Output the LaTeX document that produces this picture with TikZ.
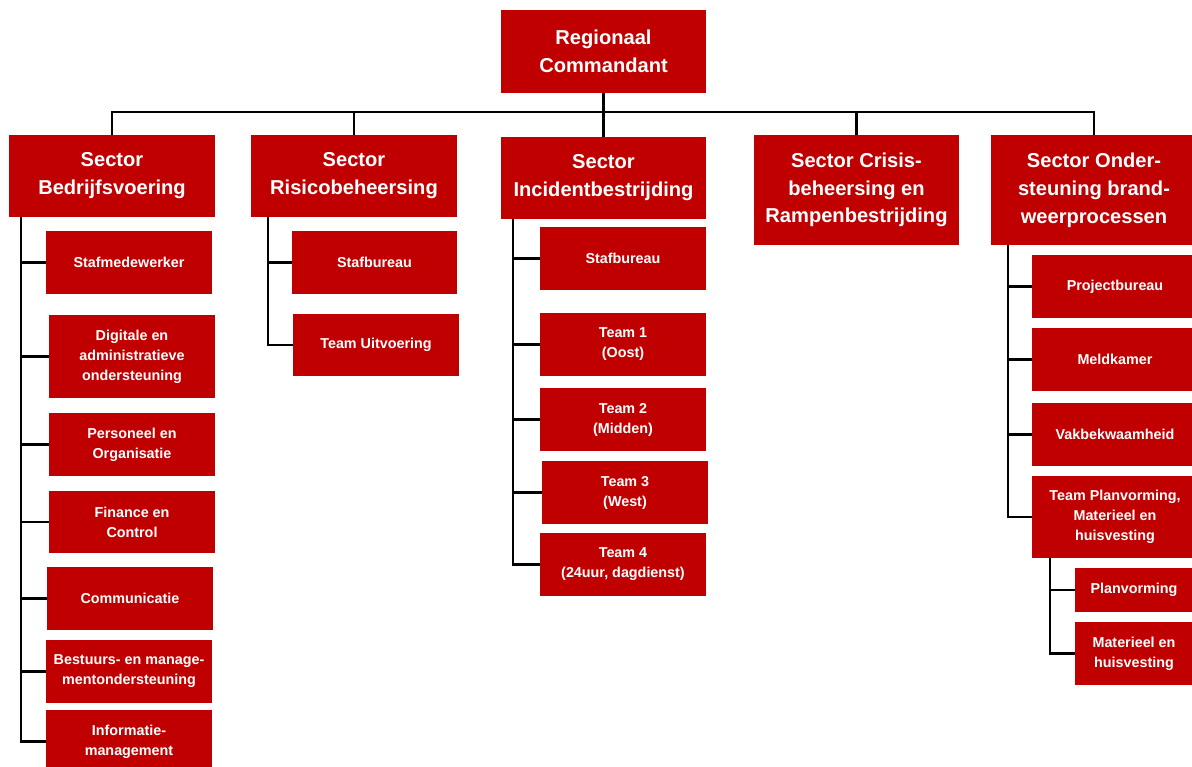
\documentclass[tikz,border=0pt]{standalone}
\usepackage{fontspec}
\setmainfont{Liberation Sans}
\usepackage{tikz}
\usetikzlibrary{positioning}
\definecolor{brandred}{RGB}{192,0,0}
\tikzset{
  unitbox/.style={fill=brandred, text=white, align=center, inner sep=0pt},
  headbox/.style={unitbox, font=\fontsize{14.3}{19.8}\selectfont\bfseries},
  subbox/.style={unitbox, font=\fontsize{10.2}{14.2}\selectfont\bfseries},
  orgline/.style={draw=black, line width=1.5pt}
}
% #2 name, #3/#4 left/top, #5/#6 right/bottom (px), #7 text
\newcommand{\orgbox}[7][subbox]{%
  \node[#1, minimum width={(#5-#3)*0.025cm}, minimum height={(#6-#4)*0.025cm}]
    (#2) at ({(#3+#5)/2},{(#4+#6)/2}) {#7};}

\begin{document}
\begin{tikzpicture}[x=0.025cm, y=-0.025cm]
  \useasboundingbox (0,0) rectangle (1192,767);
  \clip (0,0) rectangle (1192,767);
  % top and sectors
  \orgbox[headbox]{rc}{501}{10}{706}{93}{Regionaal\\Commandant}
  \orgbox[headbox]{sb}{9}{135}{215}{217}{Sector\\Bedrijfsvoering}
  \orgbox[headbox]{sr}{251}{135}{457}{217}{Sector\\Risicobeheersing}
  \orgbox[headbox]{si}{501}{137}{706}{219}{Sector\\Incidentbestrijding}
  \orgbox[headbox]{sc}{754}{135}{959}{245}{Sector Crisis-\\beheersing en\\Rampenbestrijding}
  \orgbox[headbox]{so}{991}{135}{1197}{245}{Sector Onder-\\steuning brand-\\weerprocessen}
  % Bedrijfsvoering
  \orgbox{sb1}{46}{231}{212}{294}{Stafmedewerker}
  \orgbox{sb2}{49}{315}{215}{398}{Digitale en\\administratieve\\ondersteuning}
  \orgbox{sb3}{49}{413}{215}{476}{Personeel en\\Organisatie}
  \orgbox{sb4}{49}{491}{215}{553}{Finance en\\Control}
  \orgbox{sb5}{47}{567}{213}{630}{Communicatie}
  \orgbox{sb6}{46}{640}{212}{703}{Bestuurs- en manage-\\mentondersteuning}
  \orgbox{sb7}{46}{710}{212}{773}{Informatie-\\management}
  % Risicobeheersing
  \orgbox{sr1}{292}{231}{457}{294}{Stafbureau}
  \orgbox{sr2}{293}{314}{459}{376}{Team Uitvoering}
  % Incidentbestrijding
  \orgbox{si1}{540}{227}{706}{290}{Stafbureau}
  \orgbox{si2}{540}{313}{706}{376}{Team 1\\(Oost)}
  \orgbox{si3}{540}{388}{706}{451}{Team 2\\(Midden)}
  \orgbox{si4}{542}{461}{708}{524}{Team 3\\(West)}
  \orgbox{si5}{540}{533}{706}{596}{Team 4\\(24uur, dagdienst)}
  % Ondersteuning brandweerprocessen
  \orgbox{so1}{1032}{255}{1198}{318}{Projectbureau}
  \orgbox{so2}{1032}{328}{1198}{391}{Meldkamer}
  \orgbox{so3}{1032}{403}{1198}{466}{Vakbekwaamheid}
  \orgbox{so4}{1032}{476}{1198}{558}{Team Planvorming,\\Materieel en\\huisvesting}
  \orgbox{so5}{1075}{568}{1193}{612}{Planvorming}
  \orgbox{so6}{1075}{622}{1193}{685}{Materieel en\\huisvesting}

  % connectors
  \coordinate (bus) at (0,112);
  \draw[orgline] (rc.south) -- (rc.south |- bus);
  \draw[orgline] (sb.north) |- (so.north |- bus) -- (so.north);
  \foreach \s in {sr,si,sc}
    \draw[orgline] (\s.north) -- (\s.north |- bus);

  \coordinate (sbspine) at ([xshift=0.3cm]sb.south west);
  \draw[orgline] (sbspine) |- (sb7.west);
  \foreach \c in {sb1,sb2,sb3,sb4,sb5,sb6}
    \draw[orgline] (sbspine |- \c.west) -- (\c.west);

  \coordinate (srspine) at ([xshift=0.425cm]sr.south west);
  \draw[orgline] (srspine) |- (sr2.west);
  \draw[orgline] (srspine |- sr1.west) -- (sr1.west);

  \coordinate (sispine) at ([xshift=0.3cm]si.south west);
  \draw[orgline] (sispine) |- (si5.west);
  \foreach \c in {si1,si2,si3,si4}
    \draw[orgline] (sispine |- \c.west) -- (\c.west);

  \coordinate (sospine) at ([xshift=0.425cm]so.south west);
  \draw[orgline] (sospine) |- (so4.west);
  \foreach \c in {so1,so2,so3}
    \draw[orgline] (sospine |- \c.west) -- (\c.west);

  \coordinate (plspine) at ([xshift=0.45cm]so4.south west);
  \draw[orgline] (plspine) |- (so6.west);
  \draw[orgline] (plspine |- so5.west) -- (so5.west);
\end{tikzpicture}
\end{document}
